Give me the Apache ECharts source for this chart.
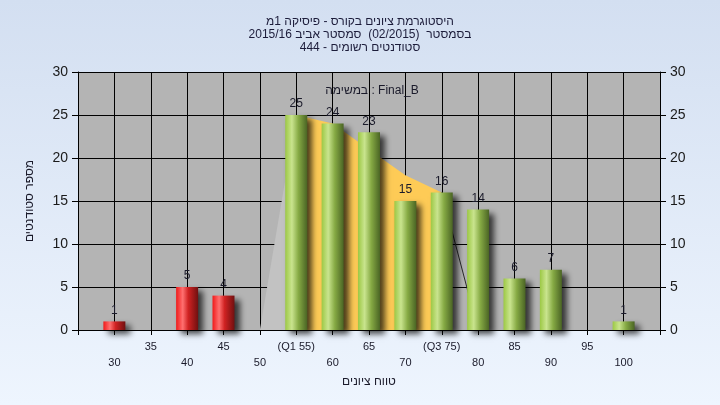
<!DOCTYPE html>
<html>
<head>
<meta charset="utf-8">
<script src="https://cdn.jsdelivr.net/npm/echarts@6/dist/echarts.min.js"></script>
<style>
html,body{margin:0;padding:0;}
body{background:linear-gradient(#d3dff1,#eef5fe);}
#c{width:720px;height:405px;}
</style>
</head>
<body>
<div id="c"></div>
<script>
// ---- data ----
const titleLines = ["היסטוגרמת ציונים בקורס - פיסיקה 1מ", "בסמסטר  (02/2015)  סמסטר אביב 2015/16", "סטודנטים רשומים - 444"];
const subTitle = "במשימה : Final_B";
const xAxisTitle = "טווח ציונים";
const yAxisTitle = "מספר סטודנטים";
const scores = [30, 35, 40, 45, 50, 55, 60, 65, 70, 75, 80, 85, 90, 95, 100];
const counts = [1, 0, 5, 4, 0, 25, 24, 23, 15, 16, 14, 6, 7, 0, 1];
const passMark = 55;
const tickLabels = {55: "(Q1 55)", 75: "(Q3 75)"};
// shaded distribution areas
const lowArea = [[50, 0], [55, 25]];
const iqrArea = [[55, 25], [60, 24], [65, 21], [70, 18], [75, 16]];
const tailLine = [[75, 16], [80, 0]];

const failData = [], passData = [];
scores.forEach((s, i) => {
  if (counts[i] > 0) (s < passMark ? failData : passData).push([s, counts[i]]);
});

const FONT = "'Liberation Sans', 'DejaVu Sans', Arial, sans-serif";
const redGrad = new echarts.graphic.LinearGradient(0, 0, 1, 0, [
  {offset: 0, color: '#f01a1a'}, {offset: 0.3, color: '#ff7070'}, {offset: 0.55, color: '#d02222'}, {offset: 1, color: '#701010'}]);
const greenGrad = new echarts.graphic.LinearGradient(0, 0, 1, 0, [
  {offset: 0, color: '#9cc844'}, {offset: 0.3, color: '#c9e48e'}, {offset: 0.6, color: '#86aa44'}, {offset: 1, color: '#4a6424'}]);

const barCommon = {
  type: 'bar', barWidth: 22, z: 5,
  label: {show: true, position: 'top', distance: 5, fontSize: 12, color: '#1a1a2a', fontFamily: FONT},
};

const chart = echarts.init(document.getElementById('c'), null, {renderer: 'canvas'});
chart.setOption({
  backgroundColor: 'transparent',
  animation: false,
  textStyle: {fontFamily: FONT},
  title: [
    {text: titleLines.join('\n'), left: 'center', top: 10,
     textStyle: {fontSize: 12, fontWeight: 'normal', color: '#1c1c3a', lineHeight: 13, fontFamily: FONT, align: 'center'}},
    {text: subTitle, left: 367, top: 80, textAlign: 'center',
     textStyle: {fontSize: 12, fontWeight: 'normal', color: '#1a1a2a', fontFamily: FONT}}
  ],
  grid: {left: 78, right: 60, top: 72, bottom: 75, show: true, backgroundColor: '#b4b4b4', borderWidth: 0},
  xAxis: {
    type: 'value', min: 25, max: 105, interval: 5,
    name: xAxisTitle, nameLocation: 'middle', nameGap: 45,
    nameTextStyle: {fontSize: 12, color: '#1a1a2a', fontFamily: FONT},
    axisLine: {show: true, lineStyle: {color: '#000', width: 1}},
    axisTick: {show: true, length: 5, lineStyle: {color: '#000'}},
    splitLine: {show: true, lineStyle: {color: '#000', width: 1}},
    axisLabel: {
      margin: 9, fontSize: 11, color: '#1a1a2a', lineHeight: 16, showMinLabel: true, showMaxLabel: true,
      formatter: v => {
        if (v < 30 || v > 100) return '';
        const t = tickLabels[v] || String(v);
        return v % 10 === 0 ? '\n' + t : t;
      }
    }
  },
  yAxis: [
    {type: 'value', min: 0, max: 30, interval: 5, position: 'left',
     name: yAxisTitle, nameLocation: 'middle', nameGap: 42, nameRotate: 90,
     nameTextStyle: {fontSize: 12, color: '#1a1a2a', fontFamily: FONT},
     axisLine: {show: true, lineStyle: {color: '#000'}},
     axisTick: {show: true, length: 6, lineStyle: {color: '#000'}},
     axisLabel: {fontSize: 14, color: '#1a1a1a', margin: 10},
     splitLine: {show: true, lineStyle: {color: '#000', width: 1}}},
    {type: 'value', min: 0, max: 30, interval: 5, position: 'right',
     axisLine: {show: true, lineStyle: {color: '#000'}},
     axisTick: {show: true, length: 6, lineStyle: {color: '#000'}},
     axisLabel: {fontSize: 14, color: '#1a1a1a', margin: 10},
     splitLine: {show: false}}
  ],
  series: [
    {type: 'line', data: lowArea, symbol: 'none', z: 2, lineStyle: {width: 0}, areaStyle: {color: '#c2c2c2', opacity: 1}},
    {type: 'line', data: iqrArea, symbol: 'none', z: 2, lineStyle: {width: 0}, areaStyle: {color: '#fecb56', opacity: 1}},
    {type: 'line', data: tailLine, symbol: 'none', z: 2, lineStyle: {width: 1, color: '#2a2a2a'}},
    Object.assign({}, barCommon, {data: failData, barGap: '-100%',
      itemStyle: {color: redGrad, shadowColor: 'rgba(0,0,0,0.7)', shadowBlur: 6, shadowOffsetX: 5, shadowOffsetY: 4}}),
    Object.assign({}, barCommon, {data: passData, barGap: '-100%',
      itemStyle: {color: greenGrad, shadowColor: 'rgba(0,0,0,0.7)', shadowBlur: 6, shadowOffsetX: 5, shadowOffsetY: 4}})
  ]
});
</script>
</body>
</html>
